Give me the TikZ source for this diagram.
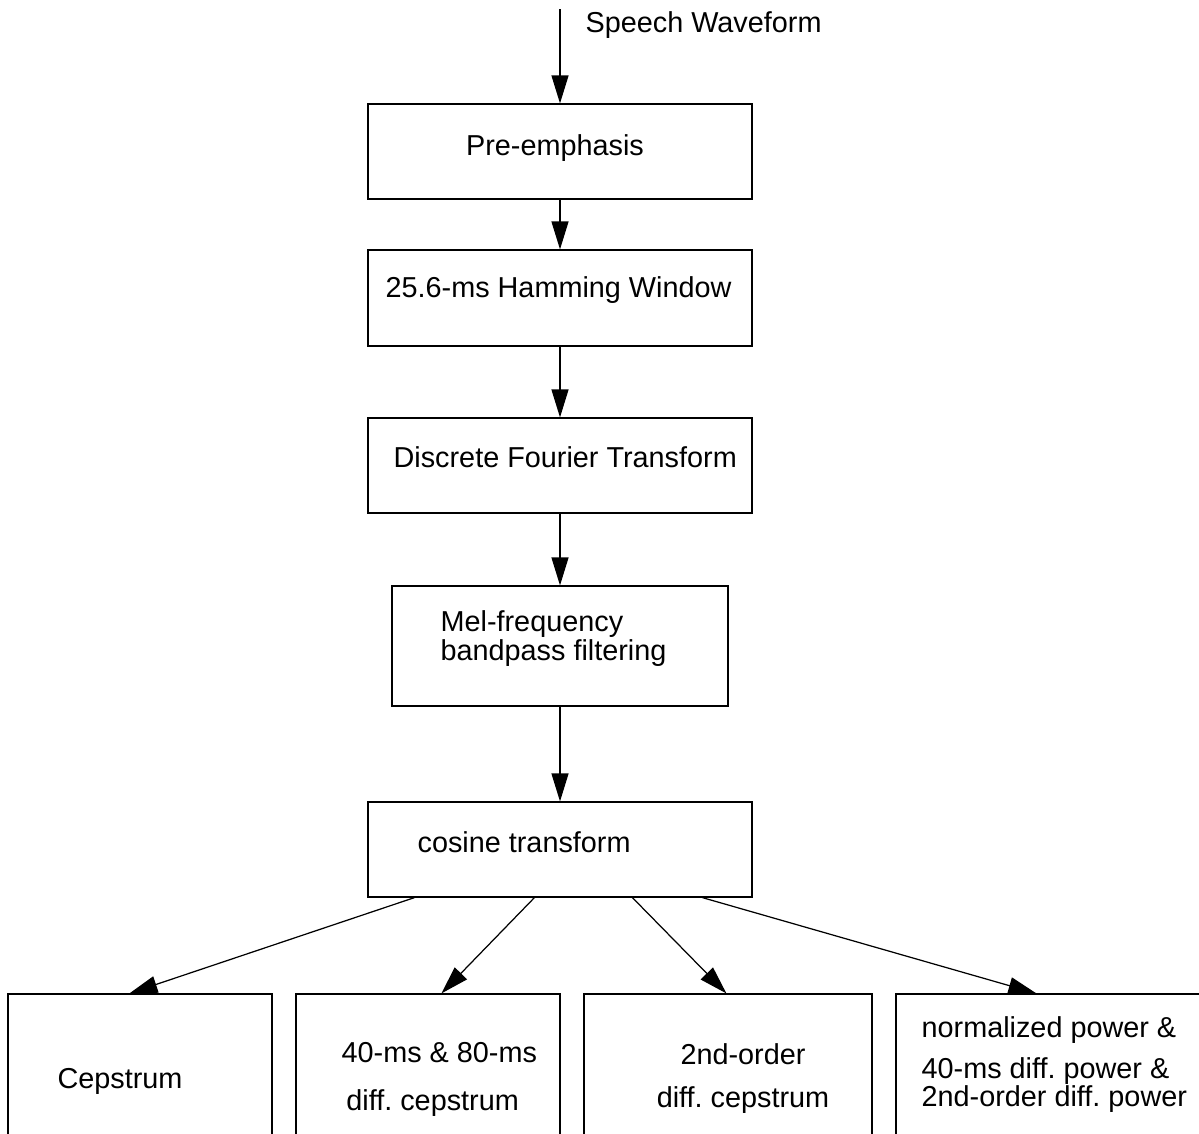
\documentclass[tikz,border=0pt]{standalone}
\usepackage{fontspec}
\setmainfont{Liberation Sans}
\usetikzlibrary{arrows.meta,calc}
\frenchspacing

\begin{document}
\begin{tikzpicture}[x=0.02cm,y=-0.02cm,
    font=\fontsize{16.4}{16}\selectfont,
    line width=0.7pt,
    blk/.style ={draw, minimum width=7.68cm, minimum height=1.9cm, inner sep=0pt},
    leaf/.style={draw, minimum height=3.52cm, inner sep=0pt},
    lbl/.style ={inner sep=0pt, anchor=west, align=left},
    flow/.style={-{Triangle[length=0.56cm,width=0.34cm]}},
  ]
  \useasboundingbox (0,0) rectangle (1199,1133);
  \fill[white] (0,0) rectangle (1199,1133);
  \clip (0,0) rectangle (1199,1133);

  % processing chain
  \coordinate (in) at (560,9);
  \node[lbl] (inT) at (585,25) {Speech Waveform};
  \node[blk] (pre) at (560,151.5) {};
  \node[lbl, anchor=center] (preT) at (555,148) {Pre-emphasis};
  \node[blk, minimum height=1.92cm] (ham) at (560,298) {};
  \node[lbl] (hamT) at (385,290) {25.6-ms Hamming Window};
  \node[blk] (dft) at (560,465.5) {};
  \node[lbl] (dftT) at (393,457) {Discrete Fourier Transform};
  \node[blk, minimum width=6.72cm, minimum height=2.4cm] (mel) at (560,646) {};
  \node[lbl] (melT) at (440,638.5) {Mel-frequency\\bandpass filtering};
  \node[blk] (cos) at (560,849.5) {};
  \node[lbl] (cosT) at (417,842) {cosine transform};

  \draw[flow] (in) -- (pre.north);
  \draw[flow] (pre) -- (ham);
  \draw[flow] (ham) -- (dft);
  \draw[flow] (dft) -- (mel);
  \draw[flow] (mel) -- (cos);

  % feature boxes (cut off by the page)
  \node[leaf, minimum width=5.28cm] (cep) at (140,1082) {};
  \node[lbl] (cepT) at (57,1081) {Cepstrum};
  \node[leaf, minimum width=5.28cm] (dcep) at (428,1082) {};
  \node[lbl] (dcepT) at (341,1079) {40-ms \& 80-ms\\[11.3pt]\,diff. cepstrum};
  \node[leaf, minimum width=5.76cm] (ddcep) at (728,1082) {};
  \node[lbl, anchor=center, align=center] (ddcepT) at (743,1078.5) {2nd-order\\[8.5pt]diff. cepstrum};
  \node[leaf, minimum width=6.28cm] (pow) at (1053,1082) {};
  \node[lbl] (powT) at (921,1065) {normalized power \&\\[7.3pt]40-ms diff. power \&\\2nd-order diff. power};

  \draw[flow] ($(cos.south west)+(47,0)$)  -- ($(cep.north west)+(122,0)$);
  \draw[flow] ($(cos.south west)+(167,0)$) -- ($(dcep.north west)+(146,0)$);
  \draw[flow] ($(cos.south west)+(265,0)$) -- ($(ddcep.north west)+(143,0)$);
  \draw[flow] ($(cos.south west)+(335,0)$) -- ($(pow.north west)+(141,0)$);
\end{tikzpicture}
\end{document}
